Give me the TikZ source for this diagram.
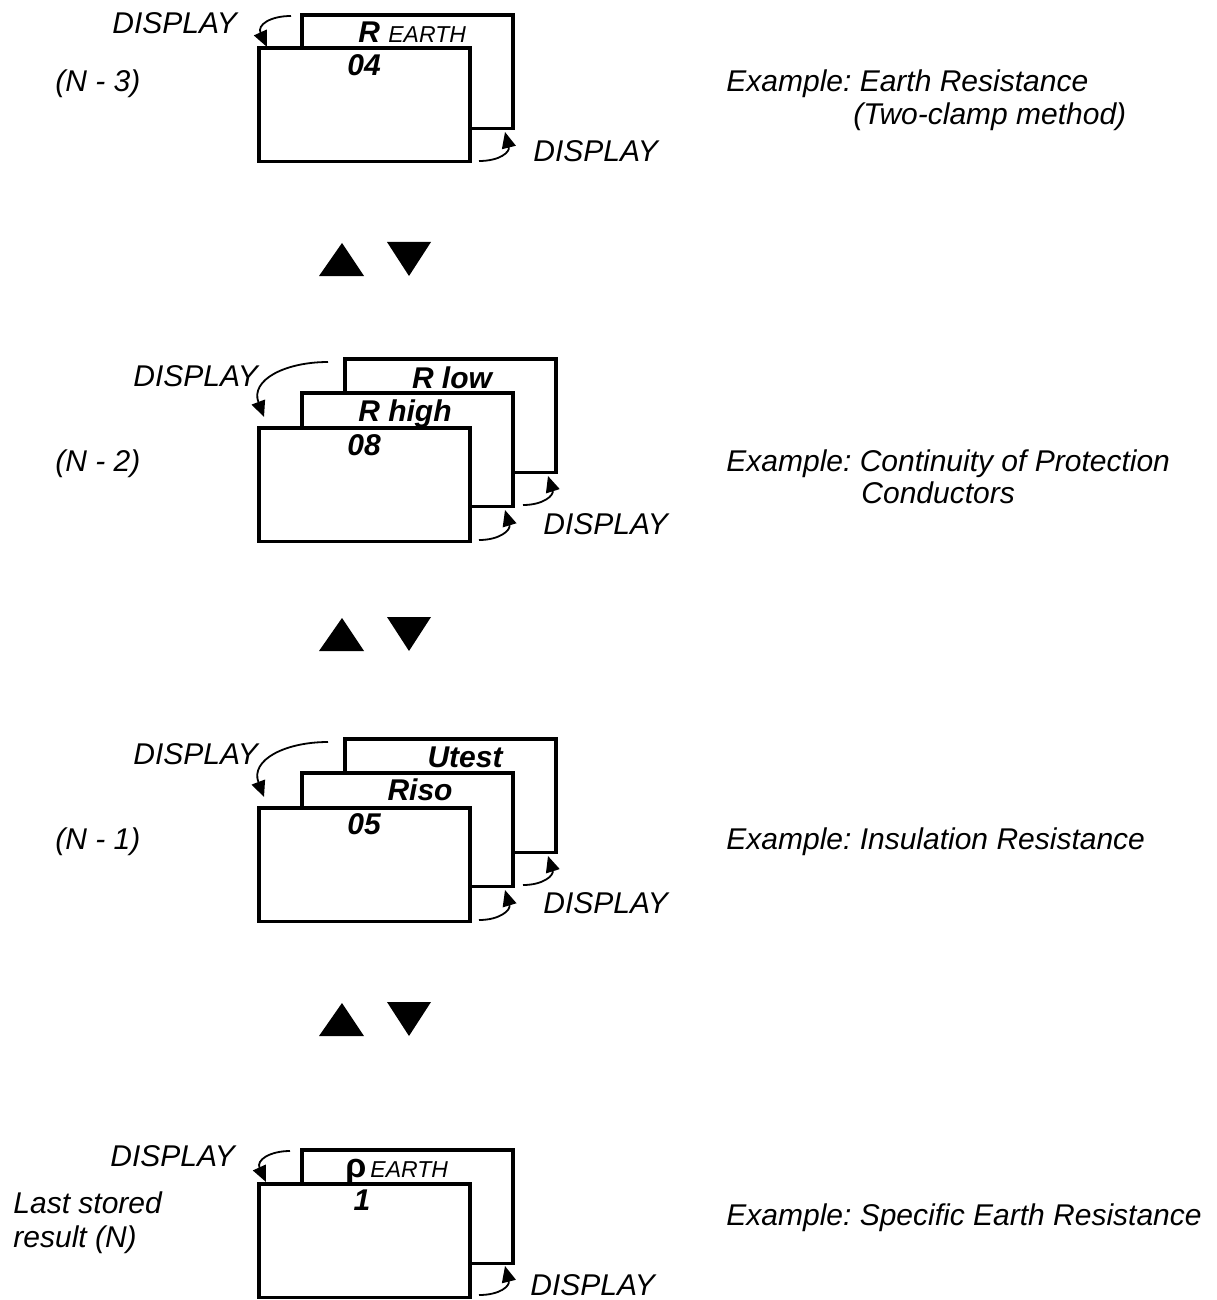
\documentclass[tikz,border=0pt]{standalone}
\usepackage{fontspec}
\setmainfont{Liberation Sans}
\usetikzlibrary{arrows.meta}
\frenchspacing
\begin{document}
\begin{tikzpicture}[x=0.5pt,y=-0.5pt]
\tikzset{
 lcd/.style={draw, line width=1.8pt, fill=white, minimum width=105.5pt, minimum height=56.75pt, anchor=north west, inner sep=0pt, outer sep=0pt},
 txt/.style={font=\fontsize{15}{18}\selectfont\itshape, inner sep=0pt, anchor=base west},
 lbl/.style={font=\fontsize{15}{18}\selectfont\bfseries\itshape, inner sep=0pt, anchor=base},
 lblw/.style={font=\fontsize{15}{18}\selectfont\bfseries\itshape, inner sep=0pt, anchor=base west},
 disp/.style={line width=0.9pt, -{Triangle[length=8pt,width=7pt,fill=black]}},
 tri/.style={fill=black}
}
\newcommand{\smallearth}{{\fontsize{11.5}{13}\selectfont\mdseries\itshape EARTH}}
\useasboundingbox (0,0) rectangle (1216,1300);

% ---------- Stack 1 (N-3)
\node[lcd] (b1) at (302,15) {};
\node[lcd] (f1) at (259,48) {};
\node[lblw] (l1) at (358,43) {R \smallearth};
\node[lbl] (v1) at (364,76) {04};
\node[txt] (d1a) at (112,34) {DISPLAY};
\node[txt] (d1b) at (533,162) {DISPLAY};
\node[txt] (n1) at (55,92) {(N - 3)};
\node[txt] (e1a) at (726,92) {Example: Earth Resistance};
\node[txt] (e1b) at (853,125) {(Two-clamp method)};
\coordinate (a1s) at (291,16); \coordinate (a1e) at (267,47);
\draw[disp] (a1s) .. controls (270,16) and (257,25) .. (a1e);
\coordinate (c1s) at (479,161); \coordinate (c1e) at (505,132);
\draw[disp] (c1s) .. controls (500,161) and (510,152) .. (c1e);

% triangles 1
\fill[tri] (319,276) -- (342,243) -- (364,276) -- cycle;
\fill[tri] (387,242) -- (431,242) -- (409,276) -- cycle;

% ---------- Stack 2 (N-2)
\node[lcd] (b2) at (345,359) {};
\node[lcd] (m2) at (302,393) {};
\node[lcd] (f2) at (259,428) {};
\node[lbl] (l2a) at (452,388) {R low};
\node[lbl] (l2b) at (405,421) {R high};
\node[lbl] (v2) at (364,455) {08};
\node[txt] (d2a) at (133,386) {DISPLAY};
\node[txt] (d2b) at (543,534) {DISPLAY};
\node[txt] (n2) at (55,471) {(N - 2)};
\node[txt] (e2a) at (726,471) {Example: Continuity of Protection};
\node[txt] (e2b) at (861,503) {Conductors};
\coordinate (a2s) at (328,362); \coordinate (a2e) at (264,417);
\draw[disp] (a2s) .. controls (285,362) and (250,380) .. (a2e);
\coordinate (c2s) at (479,540); \coordinate (c2e) at (505,510);
\draw[disp] (c2s) .. controls (500,540) and (511,530) .. (c2e);
\coordinate (g2s) at (523,505); \coordinate (g2e) at (548,476);
\draw[disp] (g2s) .. controls (544,505) and (554,495) .. (g2e);

% triangles 2
\fill[tri] (319,651) -- (342,618) -- (364,651) -- cycle;
\fill[tri] (387,617) -- (431,617) -- (409,651) -- cycle;

% ---------- Stack 3 (N-1)
\node[lcd] (b3) at (345,739) {};
\node[lcd] (m3) at (302,773) {};
\node[lcd] (f3) at (259,808) {};
\node[lbl] (l3a) at (465,767) {Utest};
\node[lbl] (l3b) at (420,800) {Riso};
\node[lbl] (v3) at (364,834) {05};
\node[txt] (d3a) at (133,764) {DISPLAY};
\node[txt] (d3b) at (543,913) {DISPLAY};
\node[txt] (n3) at (55,849) {(N - 1)};
\node[txt] (e3a) at (726,849) {Example: Insulation Resistance};
\coordinate (a3s) at (328,742); \coordinate (a3e) at (264,797);
\draw[disp] (a3s) .. controls (285,742) and (250,760) .. (a3e);
\coordinate (c3s) at (479,920); \coordinate (c3e) at (505,890);
\draw[disp] (c3s) .. controls (500,920) and (511,910) .. (c3e);
\coordinate (g3s) at (523,885); \coordinate (g3e) at (548,856);
\draw[disp] (g3s) .. controls (544,885) and (554,875) .. (g3e);

% triangles 3
\fill[tri] (319,1036) -- (342,1003) -- (364,1036) -- cycle;
\fill[tri] (387,1002) -- (431,1002) -- (409,1036) -- cycle;

% ---------- Stack 4 (N)
\node[lcd] (b4) at (302,1150) {};
\node[lcd] (f4) at (259,1184) {};
\node[lblw] (l4) at (345,1177) {\upshape{\fontsize{17}{18}\selectfont ρ}\hspace{2pt}\smallearth};
\node[lbl] (v4) at (362,1210) {1};
\node[txt] (d4a) at (110,1166) {DISPLAY};
\node[txt] (d4b) at (530,1295) {DISPLAY};
\node[txt] (n4a) at (13,1213) {Last stored};
\node[txt] (n4b) at (13,1247) {result (N)};
\node[txt] (e4a) at (726,1225) {Example: Specific Earth Resistance};
\coordinate (a4s) at (290,1151); \coordinate (a4e) at (266,1182);
\draw[disp] (a4s) .. controls (270,1151) and (256,1160) .. (a4e);
\coordinate (c4s) at (479,1295); \coordinate (c4e) at (505,1266);
\draw[disp] (c4s) .. controls (500,1295) and (510,1286) .. (c4e);
\end{tikzpicture}
\end{document}
